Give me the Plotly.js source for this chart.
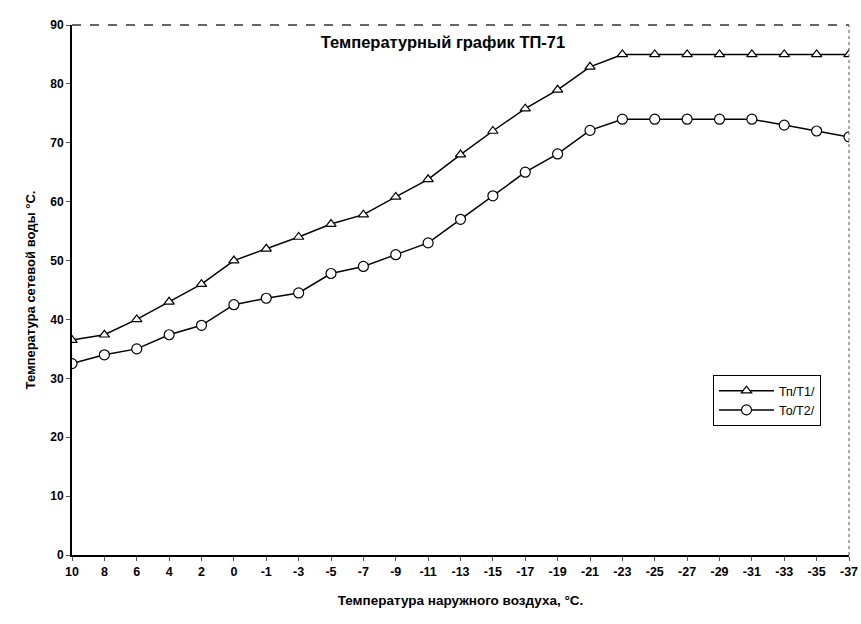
<!DOCTYPE html>
<html>
<head>
<meta charset="utf-8">
<script src="https://cdn.plot.ly/plotly-3.0.1.min.js"></script>
<style>html,body{margin:0;padding:0;background:#fff;}#chart{width:861px;height:624px;}</style>
</head>
<body>
<div id="chart"></div>
<script>
const outdoorTemps = ["10","8","6","4","2","0","-1","-3","-5","-7","-9","-11","-13","-15","-17","-19","-21","-23","-25","-27","-29","-31","-33","-35","-37"];
const supplyT1 = [36.5,37.4,40,43,46,50,52,54,56.2,57.8,60.8,63.8,68,72,75.8,79,82.9,85,85,85,85,85,85,85,85];
const returnT2 = [32.5,34,35,37.4,39,42.5,43.6,44.5,47.8,49,51,53,57,61,65,68.1,72.1,74,74,74,74,74,73,72,71];
const seriesNames = ["Тп/Т1/", "То/Т2/"];
const yTicks = [0,10,20,30,40,50,60,70,80,90];

const font = {family: "Liberation Sans, Arial, sans-serif", color: "#000"};

const traces = [
  {x: outdoorTemps, y: supplyT1, name: seriesNames[0], type: "scatter", mode: "lines+markers",
   line: {color: "#000", width: 1.5},
   marker: {symbol: "triangle-up", size: 9, color: "#fff", line: {color: "#000", width: 1.2}}},
  {x: outdoorTemps, y: returnT2, name: seriesNames[1], type: "scatter", mode: "lines+markers",
   line: {color: "#000", width: 1.5},
   marker: {symbol: "circle", size: 10, color: "#fff", line: {color: "#000", width: 1.2}}}
];

const layout = {
  width: 861, height: 624,
  margin: {l: 72, r: 12, t: 25, b: 69, autoexpand: false},
  paper_bgcolor: "#fff", plot_bgcolor: "#fff",
  font: Object.assign({size: 11}, font),
  showlegend: true,
  title: {text: "Температурный график ТП-71", x: 443/861, xanchor: "center", y: 1 - 42/624, yanchor: "middle",
          font: Object.assign({size: 16.5, weight: "bold"}, font)},
  xaxis: {type: "category", range: [0, 24], showgrid: false, zeroline: false,
          showline: true, linecolor: "#000", linewidth: 2,
          ticks: "outside", ticklen: 4, tickcolor: "#555",
          tickfont: Object.assign({size: 12.5, weight: "bold"}, font),
          title: {text: "Температура наружного воздуха, °С.", standoff: 18,
                  font: Object.assign({size: 13.5, weight: "bold"}, font)}},
  yaxis: {range: [0, 90], tickvals: yTicks, showgrid: false, zeroline: false,
          showline: true, linecolor: "#000", linewidth: 2,
          ticks: "outside", ticklen: 4, tickcolor: "#555",
          tickfont: Object.assign({size: 12, weight: "bold"}, font),
          title: {text: "Температура сетевой воды °С.", standoff: 12,
                  font: Object.assign({size: 13, weight: "bold"}, font)}},
  legend: {x: (713 - 72) / 777, xref: "paper", y: 1 - (375 - 25) / 530, yref: "paper", xanchor: "left", yanchor: "top",
           bgcolor: "#fff", bordercolor: "#000", borderwidth: 1,
           font: Object.assign({size: 12.5}, font), tracegroupgap: 0, itemwidth: 55},
  shapes: [
    {type: "line", xref: "paper", yref: "paper", x0: 0, x1: 1, y0: 1, y1: 1, line: {color: "#333", width: 1.5, dash: "dash"}},
    {type: "line", xref: "paper", yref: "paper", x0: 1, x1: 1, y0: 0, y1: 1, line: {color: "#555", width: 1, dash: "dot"}}
  ]
};

Plotly.newPlot("chart", traces, layout, {displayModeBar: false, staticPlot: true});
</script>
</body>
</html>
